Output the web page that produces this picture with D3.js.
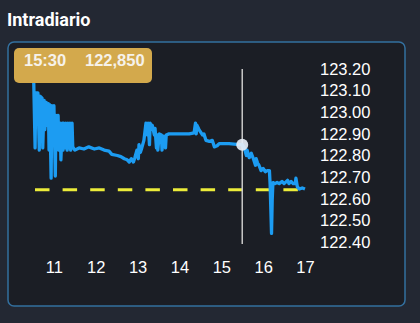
<!DOCTYPE html>
<html>
<head>
<meta charset="utf-8">
<script src="https://cdn.jsdelivr.net/npm/d3@7"></script>
<style>
  html, body { margin: 0; padding: 0; background: #232833; }
  svg { display: block; }
</style>
</head>
<body>
<div id="chart"></div>
<script>
// Intraday quotes (time, price)
const times = ["10:31","10:33","10:34","10:37","10:39","10:40","10:43","10:44","10:46","10:47",
  "10:49","10:50","10:52","10:53","10:54","10:56","10:57","10:59","11:00","11:02",
  "11:03","11:04","11:06","11:07","11:09","11:10","11:12","11:13","11:14","11:16",
  "11:17","11:19","11:20","11:22","11:23","11:24","11:26","11:27","11:30","11:36",
  "11:43","11:50","11:58","12:05","12:12","12:19","12:23","12:31","12:36","12:41",
  "12:45","12:48","12:51","12:54","12:56","12:59","13:01","13:02","13:04","13:06",
  "13:09","13:12","13:14","13:15","13:17","13:18","13:19","13:21","13:24","13:25",
  "13:27","13:28","13:29","13:31","13:34","13:35","13:37","13:40","13:41","13:45",
  "13:52","14:00","14:07","14:14","14:21","14:23","14:24","14:25","14:28","14:33",
  "14:35","14:38","14:43","14:47","14:50","14:54","14:57","15:11","15:26","15:30",
  "15:33","15:36","15:37","15:40","15:43","15:46","15:49","15:50","15:52","15:54",
  "15:57","16:00","16:03","16:06","16:09","16:10","16:12","16:13","16:14","16:17",
  "16:20","16:23","16:27","16:30","16:35","16:37","16:40","16:43","16:46","16:47",
  "16:49","16:52","16:56","17:00"];

const prices = [123.15,122.835,123.09,123.09,122.825,123.075,123.065,122.835,123.055,122.92,
  123.045,122.94,123.04,122.825,123.035,122.695,123.03,122.925,123.03,122.705,
  122.985,122.92,122.985,122.825,122.95,122.78,122.95,122.825,122.95,122.835,
  122.95,122.825,122.95,122.835,122.95,122.825,122.95,122.84,122.825,122.835,
  122.83,122.84,122.83,122.835,122.825,122.82,122.805,122.80,122.795,122.785,
  122.78,122.77,122.785,122.77,122.79,122.825,122.785,122.85,122.815,122.835,
  122.87,122.95,122.895,122.95,122.85,122.95,122.92,122.94,122.895,122.925,
  122.835,122.895,122.825,122.90,122.895,122.825,122.89,122.835,122.895,122.90,
  122.90,122.90,122.90,122.90,122.905,122.95,122.90,122.94,122.92,122.895,
  122.90,122.87,122.865,122.87,122.84,122.845,122.855,122.855,122.85,122.85,
  122.835,122.80,122.825,122.79,122.81,122.785,122.755,122.785,122.765,122.755,
  122.73,122.74,122.725,122.73,122.73,122.665,122.44,122.595,122.675,122.67,
  122.675,122.67,122.68,122.67,122.685,122.67,122.68,122.67,122.67,122.695,
  122.655,122.645,122.65,122.645];

const previousClose = 122.642;
const sessionStart = "10:30";
const sessionEnd = "17:00";
const selectedTime = "15:30";
const hourTicks = ["11:00","12:00","13:00","14:00","15:00","16:00","17:00"];
const priceTicks = [122.4, 122.5, 122.6, 122.7, 122.8, 122.9, 123.0, 123.1, 123.2];

const width = 420;
const height = 323;
const parseTime = d3.timeParse("%H:%M");
const data = times.map((t, i) => ({ t: parseTime(t), v: prices[i] }));

const svg = d3.select("#chart").append("svg")
  .attr("width", width)
  .attr("height", height);

// title
svg.append("text")
  .attr("x", 7)
  .attr("y", 26)
  .attr("fill", "#ffffff")
  .style("font-family", "Roboto, sans-serif")
  .style("font-weight", 700)
  .style("font-size", "18px")
  .text("Intradiario");

// panel
svg.append("rect")
  .attr("x", 8)
  .attr("y", 42)
  .attr("width", 397)
  .attr("height", 264)
  .attr("rx", 6)
  .attr("fill", "#1b1e25")
  .attr("stroke", "#33709f")
  .attr("stroke-width", 1.5);

const x = d3.scaleTime()
  .domain([parseTime(sessionStart), parseTime(sessionEnd)])
  .range([33, 305]);

const y = d3.scaleLinear()
  .domain([122.4, 123.2])
  .range([242, 69]);

const fontFamily = "'Liberation Sans', Arial, sans-serif";

// x axis labels
const xAxis = svg.append("g")
  .attr("transform", "translate(0,261)")
  .call(d3.axisBottom(x)
    .tickValues(hourTicks.map(parseTime))
    .tickSize(0)
    .tickPadding(0)
    .tickFormat(d3.timeFormat("%-H")));
xAxis.select(".domain").remove();
xAxis.selectAll("text")
  .attr("fill", "#ffffff")
  .style("font-family", fontFamily)
  .style("font-size", "16.5px");

// y axis labels
const yAxis = svg.append("g")
  .attr("transform", "translate(320,0)")
  .call(d3.axisRight(y)
    .tickValues(priceTicks)
    .tickSize(0)
    .tickPadding(0)
    .tickFormat(d3.format(".2f")));
yAxis.select(".domain").remove();
yAxis.selectAll("text")
  .attr("fill", "#ffffff")
  .style("font-family", fontFamily)
  .style("font-size", "16.5px");

// previous close
svg.append("line")
  .attr("x1", x(parseTime(sessionStart)) + 2)
  .attr("x2", x(parseTime(sessionEnd)) - 7)
  .attr("y1", y(previousClose))
  .attr("y2", y(previousClose))
  .attr("stroke", "#ecec3a")
  .attr("stroke-width", 3)
  .attr("stroke-dasharray", "14.5 13.1");

// cursor
const sel = data[times.indexOf(selectedTime)];
svg.append("line")
  .attr("x1", x(sel.t))
  .attr("x2", x(sel.t))
  .attr("y1", y(123.2))
  .attr("y2", y(122.4) + 2)
  .attr("stroke", "#c9c9c9")
  .attr("stroke-width", 1.5);

// price line
svg.append("path")
  .datum(data)
  .attr("fill", "none")
  .attr("stroke", "#1c9cf2")
  .attr("stroke-width", 3.3)
  .attr("stroke-linejoin", "round")
  .attr("d", d3.line().x(d => x(d.t)).y(d => y(d.v)));

svg.append("circle")
  .attr("cx", x(sel.t))
  .attr("cy", y(sel.v))
  .attr("r", 6)
  .attr("fill", "#e6edf5")
  .attr("fill-opacity", 0.92);

// badge
svg.append("rect")
  .attr("x", 14)
  .attr("y", 48)
  .attr("width", 138)
  .attr("height", 35)
  .attr("rx", 5)
  .attr("fill", "#d3a94c");

svg.append("text")
  .attr("x", 24)
  .attr("y", 66)
  .attr("fill", "#f6f2ea")
  .style("font-family", fontFamily)
  .style("font-weight", 700)
  .style("font-size", "16.5px")
  .text(selectedTime);

svg.append("text")
  .attr("x", 85)
  .attr("y", 66)
  .attr("fill", "#f6f2ea")
  .style("font-family", fontFamily)
  .style("font-weight", 700)
  .style("font-size", "16.5px")
  .text(d3.format(".3f")(sel.v).replace(".", ","));
</script>
</body>
</html>
